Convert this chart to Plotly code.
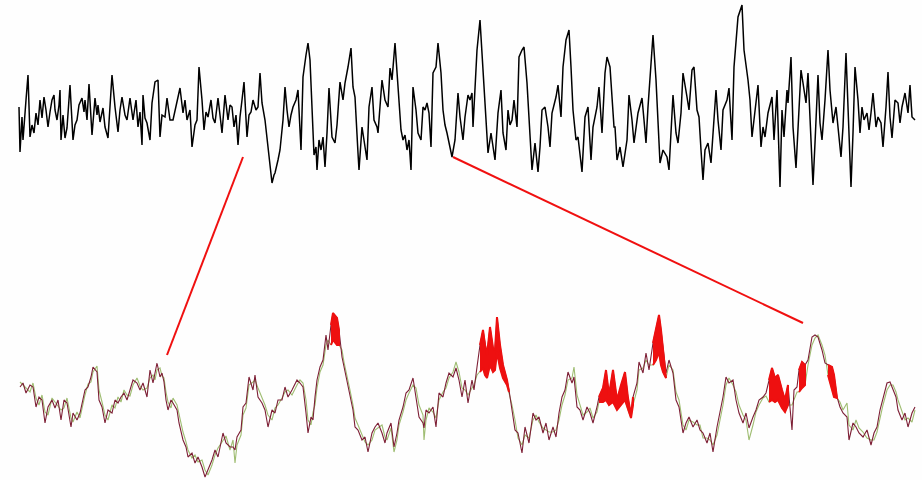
import plotly.graph_objects as go

# ---- top trace: full recording (sample position, level) ----
top_t = [19,20,22,23,26,28,30,32,34,36,38,40,42,44,46,48,50,52,54,55,57,59,60,61,63,65,67,70,73,75,77,79,82,84,85,87,89,92,95,97,98,100,103,105,108,110,112,115,118,120,122,125,127,130,133,136,138,140,142,143,145,147,150,152,155,158,160,162,165,
         167,170,173,176,180,183,185,187,190,192,195,197,199,202,204,206,208,211,213,215,218,220,222,225,228,230,232,234,236,238,240,242,244,247,249,251,253,256,258,260,262,265,268,270,272,274,275,278,280,283,285,287,289,291,293,296,298,301,303,306,308,310,312,314,
         316,317,319,321,323,325,327,329,332,335,337,340,343,345,348,351,353,355,358,359,362,365,367,369,372,374,377,378,380,382,385,388,390,392,395,398,401,403,405,407,409,411,413,416,418,421,423,425,427,429,431,433,436,438,441,443,445,447,450,452,455,458,460,463,
         465,468,470,472,473,477,480,483,487,488,491,495,498,501,503,506,508,510,512,514,517,519,522,524,527,530,532,535,538,540,542,545,548,550,552,556,558,561,563,566,569,571,573,576,578,581,582,585,588,591,593,597,599,602,605,607,610,612,614,
         615,617,620,623,627,629,632,634,638,642,644,646,648,651,653,656,658,660,663,667,669,671,673,676,678,681,683,687,689,692,694,697,699,701,703,705,708,711,713,716,718,721,723,727,729,732,734,738,742,744,748,750,752,755,758,761,763,
         765,768,772,774,777,780,782,784,787,788,791,793,796,798,801,803,806,808,811,813,815,818,820,822,825,828,830,833,836,838,841,843,846,848,851,853,855,858,860,862,864,867,869,871,873,876,878,881,883,886,888,890,892,895,898,900,902,905,908,910,912,915]
top_level = [107,152,117,140,100,75,137,125,133,113,125,100,118,97,110,127,112,100,95,110,120,105,90,140,115,138,128,85,140,125,120,105,98,112,100,120,84,135,98,115,105,122,108,127,138,100,75,107,132,110,97,115,120,98,120,100,127,112,145,95,118,123,140,103,82,80,137,115,117,
             98,120,120,105,88,113,100,120,110,147,125,120,67,100,130,112,117,100,118,123,98,115,133,95,120,105,107,127,115,145,117,100,82,137,115,112,100,110,107,73,103,120,150,170,183,175,173,160,150,120,87,110,127,115,107,100,90,150,77,55,43,60,107,155,
             147,170,140,150,137,167,133,88,137,143,125,82,100,83,67,48,87,97,153,170,127,147,160,107,87,120,127,133,110,80,100,107,68,80,43,83,130,140,135,150,140,170,87,110,133,140,107,110,103,113,147,73,67,43,73,110,125,133,147,157,140,93,117,140,
             117,95,100,93,127,50,20,67,133,153,133,160,113,90,133,150,110,125,120,100,127,57,50,47,83,140,170,143,172,147,110,107,127,147,113,97,85,117,67,40,30,67,110,140,137,163,172,117,107,160,127,107,87,133,73,57,67,97,127,
             127,160,147,167,140,95,120,143,113,98,120,143,107,67,35,80,117,163,150,157,170,133,95,133,143,113,73,97,110,70,67,110,117,150,180,150,143,163,133,90,120,150,110,100,88,140,67,17,5,50,80,100,137,110,85,147,127,
             137,113,97,140,90,187,110,137,90,103,57,127,168,123,70,83,103,73,137,185,143,75,123,140,100,50,90,123,107,130,157,127,53,107,187,133,67,100,133,107,120,113,130,113,93,127,117,123,147,107,72,117,138,100,103,123,107,93,113,85,117,120]

# ---- bottom traces: zoomed section, two channels ----
bot_t = [20,23,26,30,33,36,39,42,45,48,52,55,58,61,64,67,71,73,77,80,85,88,91,93,97,99,102,105,108,112,115,118,121,124,127,130,133,137,140,143,147,150,153,155,157,160,162,164,166,168,171,173,177,179,183,186,188,192,195,198,202,205,208,212,215,218,223,226,230,233,235,237,241,243,246,249,253,255,258,262,265,268,272,275,278,282,285,288,292,297,300,303,306,308,311,313,315,317,320,323,326,328,331,333,337,339,342,344,347,350,353,355,358,362,365,368,372,375,378,382,385,387,391,394,397,399,403,406,409,413,416,419,423,424,426,429,433,436,439,443,446,449,453,456,459,462,465,468,472,474,477,480,483,485,487,490,493,495,497,500,503,507,509,512,515,518,522,525,529,533,536,539,543,546,549,553,556,559,562,565,568,572,574,577,580,583,587,590,593,597,599,603,606,609,613,617,621,625,628,631,633,637,639,643,646,649,653,656,659,661,663,666,669,673,676,679,683,686,689,693,697,700,703,707,710,713,717,720,723,726,729,733,736,739,743,746,749,753,756,759,763,766,769,772,775,778,782,785,788,792,794,797,799,802,805,808,812,815,818,822,825,828,832,834,837,840,843,847,849,853,856,859,863,867,871,874,877,880,883,887,890,893,896,898,902,905,908,912,915]
bot_ch1 = [387,383,393,385,387,407,397,400,423,407,400,408,400,420,400,403,427,413,420,413,390,387,377,367,372,400,407,423,410,413,400,403,397,393,400,390,380,383,390,383,397,370,383,373,363,377,373,382,400,410,400,403,410,423,440,447,457,453,463,457,467,477,470,460,450,457,433,443,447,447,450,437,430,407,403,377,390,375,397,403,410,427,410,413,400,400,387,397,390,380,383,387,413,433,417,420,397,380,367,360,335,350,325,313,318,330,357,367,380,397,410,427,430,440,437,452,433,427,423,433,443,433,423,447,433,420,407,393,390,378,397,417,423,428,410,413,407,427,393,397,383,373,377,368,380,397,380,403,380,390,367,345,330,345,355,327,348,350,317,345,365,380,390,410,430,433,453,427,443,413,420,417,433,423,440,427,437,413,397,390,372,383,377,407,410,420,407,413,423,407,397,388,370,395,370,400,385,372,398,415,397,383,362,373,353,370,343,330,315,330,350,373,360,373,400,407,433,423,417,427,420,430,433,443,433,452,427,413,397,377,383,380,400,413,423,413,428,417,410,400,397,393,380,368,378,375,390,400,385,430,390,387,370,362,365,360,337,335,337,350,363,365,367,375,397,407,413,417,440,423,427,433,437,430,445,433,427,410,397,383,382,390,397,410,420,413,427,413,407]
bot_ch2 = [382,385,388,392,383,398,405,395,412,415,398,402,405,410,408,398,418,422,412,418,395,384,382,372,366,390,402,415,420,405,408,397,402,390,395,396,385,378,386,390,388,378,375,380,370,368,376,378,392,402,408,398,405,415,432,442,450,458,455,462,460,470,475,465,455,448,440,436,450,440,463,445,435,415,408,385,382,380,388,398,405,415,420,408,405,398,392,390,395,385,380,383,400,420,425,412,405,388,372,365,345,340,345,340,345,345,350,362,375,390,405,418,425,435,442,445,440,430,428,425,437,440,428,452,440,425,412,400,393,385,388,405,415,440,420,408,412,418,400,392,388,378,372,362,372,388,390,395,388,385,375,372,368,375,378,365,372,370,352,368,378,385,392,405,420,438,445,435,438,420,415,422,428,430,432,432,430,420,405,395,380,378,367,395,405,415,412,408,418,412,402,402,400,405,402,410,405,400,410,418,405,390,370,368,360,365,365,360,352,365,372,378,365,370,392,400,425,430,420,422,425,425,438,438,440,445,435,420,405,385,378,385,392,405,415,420,440,425,412,405,398,396,402,400,402,400,408,412,405,405,400,392,392,388,385,365,345,338,335,345,355,375,390,397,398,402,410,403,425,430,420,428,432,438,440,440,432,418,405,390,385,385,392,400,412,420,418,422,410]

# highlighted (sample ranges) where the two channels diverge
highlight_ranges = [(329, 340), (478, 510), (598, 635), (652, 668), (767, 790), (798, 806), (828, 837)]

# connector lines: (top-panel sample, top level) -> (bottom position, bottom level)
connector_x = [[243, 167], [453, 803]]
connector_y = [[157, 355], [157, 323]]

fig = go.Figure()

fig.add_trace(go.Scatter(x=top_t, y=top_level, mode="lines",
                         line=dict(color="#000000", width=1.5), hoverinfo="skip"))

fig.add_trace(go.Scatter(x=bot_t, y=bot_ch2, mode="lines",
                         line=dict(color="#9fbd72", width=1.1), hoverinfo="skip"))
fig.add_trace(go.Scatter(x=bot_t, y=bot_ch1, mode="lines",
                         line=dict(color="#7d1f35", width=1.1), hoverinfo="skip"))

for lo, hi in highlight_ranges:
    idx = [i for i, t in enumerate(bot_t) if lo <= t <= hi]
    xs = [bot_t[i] for i in idx] + [bot_t[i] for i in reversed(idx)]
    ys = [bot_ch1[i] for i in idx] + [bot_ch2[i] for i in reversed(idx)]
    fig.add_trace(go.Scatter(x=xs, y=ys, mode="lines", fill="toself",
                             fillcolor="#ee1010", line=dict(color="#ee1010", width=2),
                             hoverinfo="skip"))

for cx, cy in zip(connector_x, connector_y):
    fig.add_trace(go.Scatter(x=cx, y=cy, mode="lines",
                             line=dict(color="#f01010", width=2), hoverinfo="skip"))

fig.update_layout(
    width=922, height=480,
    margin=dict(l=0, r=0, t=0, b=0),
    paper_bgcolor="#fefefe", plot_bgcolor="#fefefe",
    showlegend=False,
    xaxis=dict(range=[0, 922], visible=False, fixedrange=True),
    yaxis=dict(range=[480, 0], visible=False, fixedrange=True),
)

fig.write_html("out.html")
